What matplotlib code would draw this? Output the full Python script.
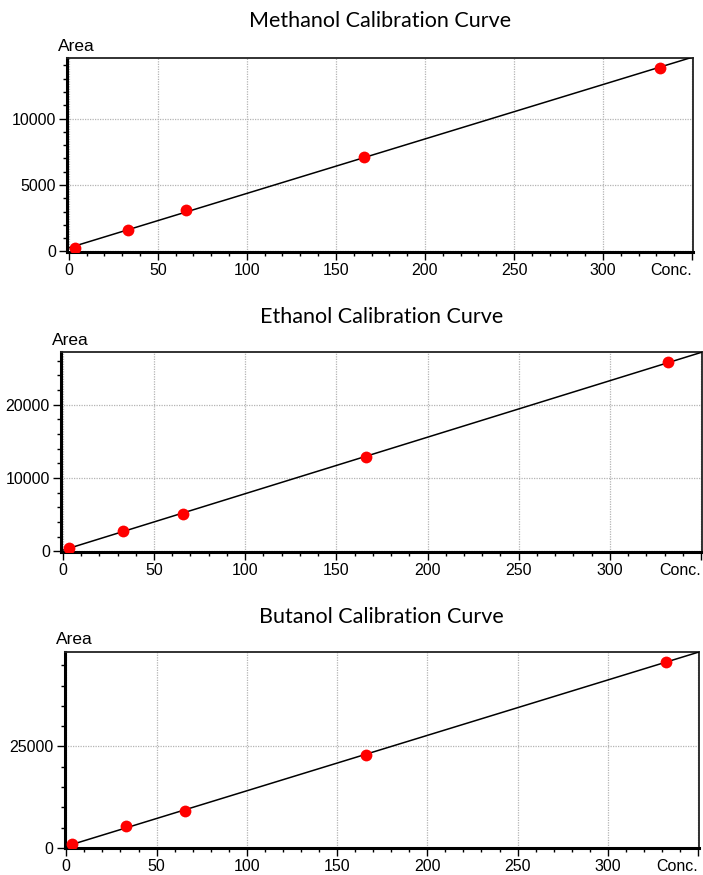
import numpy as np
import matplotlib
matplotlib.use("Agg")
import matplotlib.pyplot as plt
from matplotlib.ticker import MultipleLocator

# Calibration data
conc = [3.3, 33, 66, 166, 332]
methanol_area = [280, 1600, 3125, 7120, 13815]
ethanol_area = [465, 2740, 5120, 12880, 25800]
butanol_area = [910, 5280, 9060, 22870, 45890]

titles = ["Methanol Calibration Curve", "Ethanol Calibration Curve", "Butanol Calibration Curve"]
areas = [methanol_area, ethanol_area, butanol_area]
x_ticks = [0, 50, 100, 150, 200, 250, 300, 350]
x_labels = ["0", "50", "100", "150", "200", "250", "300", "Conc."]
y_ticks = [[0, 5000, 10000], [0, 10000, 20000], [0, 25000]]
y_minor = [1000, 2000, 5000]
y_max = [14550, 27200, 48400]

# axes boxes in pixels: left, top, right, bottom
W, H = 703, 875
boxes = [(67, 58, 693, 252), (61, 352, 702, 551.5), (64.5, 651.5, 699, 848)]
title_y = [21, 317, 617]

fig = plt.figure(figsize=(W / 100, H / 100), dpi=100)
tick_font = "Liberation Sans"

for i in range(3):
    l, t, r, b = boxes[i]
    ax = fig.add_axes([l / W, 1 - b / H, (r - l) / W, (b - t) / H])
    y = areas[i]

    # least squares line
    k, c = np.polyfit(conc, y, 1)
    xx = np.array([0, 351])
    ax.plot(xx, k * xx + c, color="black", lw=1.1, zorder=3)
    ax.plot(conc, y, "o", color="#ff0000", ms=8.5, zorder=4, markeredgewidth=0)

    ax.set_xlim(-1, 350.5)
    ax.set_ylim(-40, y_max[i])
    ax.set_xticks(x_ticks)
    ax.set_xticklabels(x_labels, fontfamily=tick_font, fontsize=11.5)
    ax.get_xticklabels()[-1].set_ha("right")
    ax.xaxis.set_minor_locator(MultipleLocator(10))
    ax.set_yticks(y_ticks[i])
    ax.set_yticklabels([str(v) for v in y_ticks[i]], fontfamily=tick_font, fontsize=11.5)
    ax.yaxis.set_minor_locator(MultipleLocator(y_minor[i]))
    ax.tick_params(which="major", length=6, width=1, pad=2, direction="out")
    ax.tick_params(which="minor", length=3, width=1, direction="out")

    ax.grid(True, which="major", color="#b4b4b4", linestyle=(0, (1, 1)), lw=0.9)
    ax.set_axisbelow(True)
    for s in ["left", "bottom"]:
        ax.spines[s].set_linewidth(2.2)
    for s in ["top", "right"]:
        ax.spines[s].set_linewidth(1.3)
        ax.spines[s].set_color("#222222")

    fig.text((l + r) / 2 / W, 1 - title_y[i] / H, titles[i], ha="center", va="center",
             fontfamily="Lato", fontsize=15.5)
    fig.text((l - 9) / W, 1 - (t - 4) / H, "Area", ha="left", va="bottom",
             fontfamily=tick_font, fontsize=12.5)

fig.savefig("out.png", dpi=100)
